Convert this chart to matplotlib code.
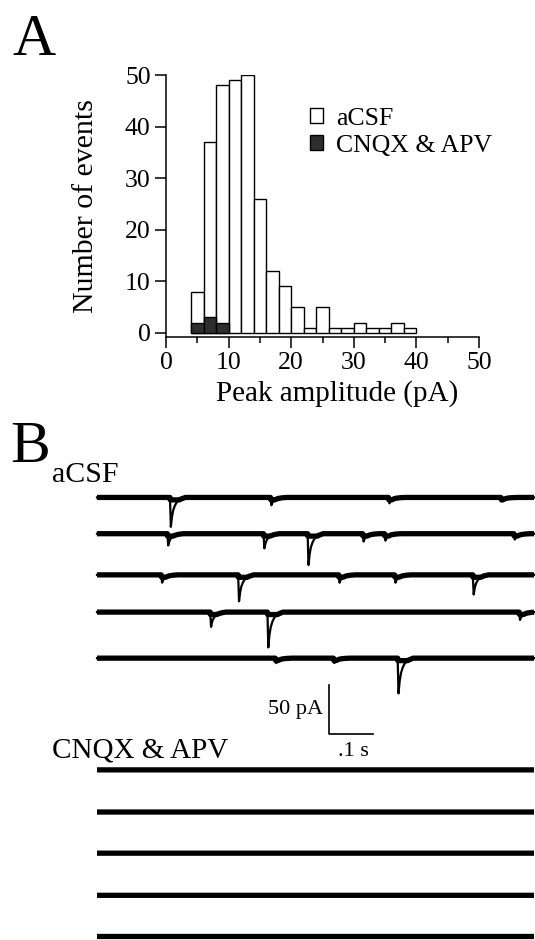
import numpy as np
import matplotlib
matplotlib.use('Agg')
import matplotlib.pyplot as plt
from matplotlib.patches import Patch

plt.rcParams['font.family'] = ['Liberation Serif', 'DejaVu Serif']

# histogram (panel A): 2 pA bins
bin_left = [4, 6, 8, 10, 12, 14, 16, 18, 20, 22, 24, 26, 28, 30, 32, 34, 36, 38]
acsf_counts = [8, 37, 48, 49, 50, 26, 12, 9, 5, 1, 5, 1, 1, 2, 1, 1, 2, 1]
cnqx_bin_left = [4, 6, 8]
cnqx_counts = [2, 3, 2]
bin_width = 2

# traces (panel B): row baselines (pA) and events (time s, amplitude pA)
acsf_offsets = [-28, -65, -107, -145, -192]
acsf_events = [
    [(0.167, 30), (0.397, 8), (0.667, 6), (0.924, 4)],
    [(0.161, 12), (0.381, 15), (0.482, 32), (0.608, 8), (0.658, 7), (0.954, 6)],
    [(0.147, 8), (0.323, 27), (0.553, 8), (0.681, 8), (0.860, 20)],
    [(0.259, 15), (0.390, 36), (0.966, 8)],
    [(0.408, 5), (0.541, 5), (0.688, 36)],
]
cnqx_offsets = [-306, -349, -391, -434, -476]

# normalised mEPSC waveform (ms, fraction of peak)
shape_ms = [0, 2, 4, 7, 11, 16, 24, 35]
shape_val = [0, -1, -0.7, -0.45, -0.28, -0.15, -0.06, 0]

W, H = 535, 940
fig = plt.figure(figsize=(W / 100, H / 100), dpi=100)

def fy(px):
    return 1 - px / H

# ---- panel A ----
ax = fig.add_axes([166 / W, fy(337), 313 / W, (337 - 75) / H])
ax.bar(bin_left, acsf_counts, width=bin_width, align='edge',
       facecolor='white', edgecolor='black', linewidth=1.0)
ax.bar(cnqx_bin_left, cnqx_counts, width=bin_width, align='edge',
       facecolor='#2e2e2e', edgecolor='black', linewidth=1.0)
ax.set_xlim(0, 50)
ax.set_ylim(-0.8, 50)
ax.spines['top'].set_visible(False)
ax.spines['right'].set_visible(False)
for s in ['left', 'bottom']:
    ax.spines[s].set_linewidth(1.1)
ax.set_xticks(range(0, 51, 10))
ax.set_xticks(range(5, 50, 10), minor=True)
ax.set_yticks(range(0, 51, 10))
ax.tick_params(axis='both', which='major', direction='out', length=8,
               width=1.1, labelsize=18.5, pad=3)
ax.tick_params(axis='x', which='minor', direction='out', length=4, width=1.1)
ax.set_xlabel('Peak amplitude (pA)', fontsize=21)
ax.set_ylabel('Number of events', fontsize=21.5)
ax.xaxis.set_label_coords(0.546, -0.165)
ax.yaxis.set_label_coords(-0.215, 0.5)
handles = [Patch(facecolor='white', edgecolor='black', linewidth=1.0, label='aCSF'),
           Patch(facecolor='#2e2e2e', edgecolor='black', linewidth=1.0, label='CNQX & APV')]
ax.legend(handles=handles, loc='upper left', bbox_to_anchor=(0.46, 0.875),
          frameon=False, fontsize=18.5, handlelength=0.5, handleheight=0.5,
          handletextpad=0.5, labelspacing=0.2, borderpad=0, borderaxespad=0)

fig.text(12 / W, fy(55), 'A', fontsize=43, va='baseline', ha='left')

# ---- panel B ----
axb = fig.add_axes([97 / W, 0, 437 / W, fy(470)])
axb.set_xlim(0, 1.0)
axb.set_ylim(-(H - 470) / 0.98, 0)
axb.axis('off')

t = np.linspace(0, 1.0, 2001)

def make_trace(events):
    y = np.zeros_like(t)
    for t0, amp in events:
        y += amp * np.interp((t - t0) * 1000, shape_ms, shape_val, left=0, right=0)
    return y

for off, ev in zip(acsf_offsets, acsf_events):
    y = make_trace(ev)
    axb.plot(t, off + np.maximum(y, -2.5), color='black', lw=3.8,
             solid_capstyle='butt', clip_on=False)
    axb.plot(t, off + y, color='black', lw=1.6, clip_on=False)

for off in cnqx_offsets:
    axb.plot(t, off + np.zeros_like(t), color='black', lw=3.8,
             solid_capstyle='butt', clip_on=False)

# scale bar: 50 pA, 0.1 s
sb_t, sb_y = 0.531, -269.4
axb.plot([sb_t, sb_t, sb_t + 0.1], [sb_y + 50, sb_y, sb_y], color='black', lw=1.2)
axb.text(sb_t - 0.014, sb_y + 25, '50 pA', fontsize=16, ha='right', va='center')
axb.text(sb_t + 0.055, sb_y - 8, '.1 s', fontsize=16, ha='center', va='top')

fig.text(10 / W, fy(462), 'B', fontsize=43, va='baseline', ha='left')
fig.text(52 / W, fy(482), 'aCSF', fontsize=21.5, va='baseline', ha='left')
fig.text(52 / W, fy(758), 'CNQX & APV', fontsize=21, va='baseline', ha='left')

fig.savefig('out.png', dpi=100)
